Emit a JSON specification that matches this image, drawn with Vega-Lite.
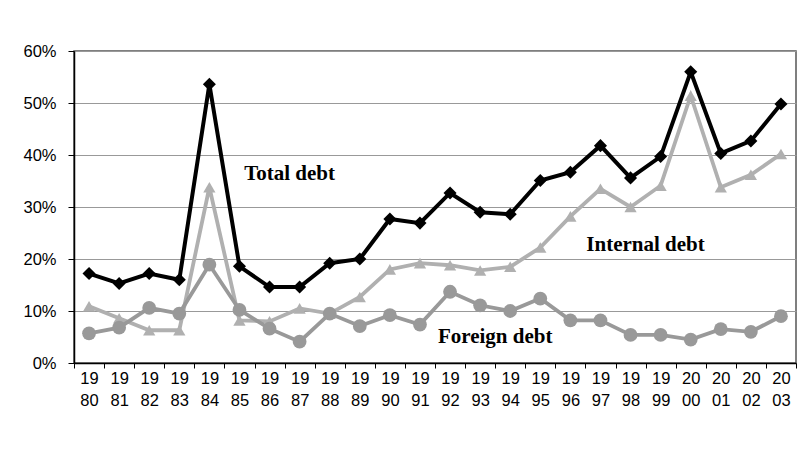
{
  "$schema": "https://vega.github.io/schema/vega-lite/v6.json",
  "width": 722,
  "height": 312,
  "autosize": {"type": "none"},
  "padding": {"left": 74, "top": 51, "right": 4, "bottom": 98},
  "background": "white",
  "config": {
    "view": {"stroke": "#555555", "strokeWidth": 1.5},
    "axis": {"labelFont": "Liberation Sans", "labelFontSize": 16.5, "labelColor": "#000000", "domainColor": "#000000", "tickColor": "#000000", "title": null}
  },
  "data": {
    "values": [
      {"year": "1980", "total": 0.172, "internal": 0.109, "foreign": 0.057},
      {"year": "1981", "total": 0.153, "internal": 0.086, "foreign": 0.068},
      {"year": "1982", "total": 0.172, "internal": 0.063, "foreign": 0.106},
      {"year": "1983", "total": 0.160, "internal": 0.063, "foreign": 0.095},
      {"year": "1984", "total": 0.536, "internal": 0.338, "foreign": 0.189},
      {"year": "1985", "total": 0.186, "internal": 0.082, "foreign": 0.102},
      {"year": "1986", "total": 0.146, "internal": 0.080, "foreign": 0.066},
      {"year": "1987", "total": 0.146, "internal": 0.105, "foreign": 0.041},
      {"year": "1988", "total": 0.192, "internal": 0.095, "foreign": 0.095},
      {"year": "1989", "total": 0.200, "internal": 0.127, "foreign": 0.071},
      {"year": "1990", "total": 0.277, "internal": 0.180, "foreign": 0.092},
      {"year": "1991", "total": 0.269, "internal": 0.192, "foreign": 0.074},
      {"year": "1992", "total": 0.327, "internal": 0.188, "foreign": 0.137},
      {"year": "1993", "total": 0.290, "internal": 0.178, "foreign": 0.111},
      {"year": "1994", "total": 0.286, "internal": 0.185, "foreign": 0.100},
      {"year": "1995", "total": 0.351, "internal": 0.222, "foreign": 0.124},
      {"year": "1996", "total": 0.367, "internal": 0.282, "foreign": 0.082},
      {"year": "1997", "total": 0.418, "internal": 0.335, "foreign": 0.082},
      {"year": "1998", "total": 0.356, "internal": 0.300, "foreign": 0.054},
      {"year": "1999", "total": 0.397, "internal": 0.341, "foreign": 0.054},
      {"year": "2000", "total": 0.560, "internal": 0.514, "foreign": 0.045},
      {"year": "2001", "total": 0.403, "internal": 0.338, "foreign": 0.065},
      {"year": "2002", "total": 0.427, "internal": 0.362, "foreign": 0.060},
      {"year": "2003", "total": 0.498, "internal": 0.402, "foreign": 0.090}
    ]
  },
  "encoding": {
    "x": {
      "field": "year", "type": "ordinal",
      "scale": {"type": "band", "paddingInner": 0, "paddingOuter": 0},
      "axis": {
        "labelAngle": 0, "tickBand": "extent", "tickSize": 5, "domainWidth": 1.5,
        "labelBaseline": "top", "labelPadding": 2, "labelLineHeight": 22,
        "labelExpr": "[substring(datum.label, 0, 2), substring(datum.label, 2, 4)]"
      }
    }
  },
  "layer": [
    {
      "mark": {"type": "line", "color": "#b0b0b0", "strokeWidth": 3.8, "point": {"shape": "triangle-up", "size": 150, "filled": true, "color": "#b0b0b0"}},
      "encoding": {
        "y": {
          "field": "internal", "type": "quantitative",
          "scale": {"domain": [0, 0.6]},
          "axis": {"values": [0, 0.1, 0.2, 0.3, 0.4, 0.5, 0.6], "format": ".0%", "tickSize": 6, "labelPadding": 12, "domainWidth": 1.5, "grid": true, "gridColor": "#999999", "gridWidth": 1}
        }
      }
    },
    {
      "mark": {"type": "line", "color": "#999999", "strokeWidth": 3.8, "point": {"shape": "circle", "size": 190, "filled": true, "color": "#999999", "opacity": 1}},
      "encoding": {"y": {"field": "foreign", "type": "quantitative"}}
    },
    {
      "mark": {"type": "line", "color": "#000000", "strokeWidth": 4, "point": {"shape": "diamond", "size": 170, "filled": true, "color": "#000000", "opacity": 1}},
      "encoding": {"y": {"field": "total", "type": "quantitative"}}
    },
    {
      "data": {
        "values": [
          {"year": "1987", "value": 0.364, "label": "Total debt", "shift": -13},
          {"year": "1998", "value": 0.226, "label": "Internal debt", "shift": -3},
          {"year": "1994", "value": 0.05, "label": "Foreign debt", "shift": -15}
        ]
      },
      "mark": {"type": "text", "font": "Liberation Serif", "fontWeight": "bold", "fontSize": 21, "color": "#000000"},
      "encoding": {
        "x": {"field": "year", "type": "ordinal"},
        "y": {"field": "value", "type": "quantitative"},
        "text": {"field": "label"},
        "xOffset": {"field": "shift", "type": "quantitative", "scale": {"type": "identity"}}
      }
    }
  ]
}
